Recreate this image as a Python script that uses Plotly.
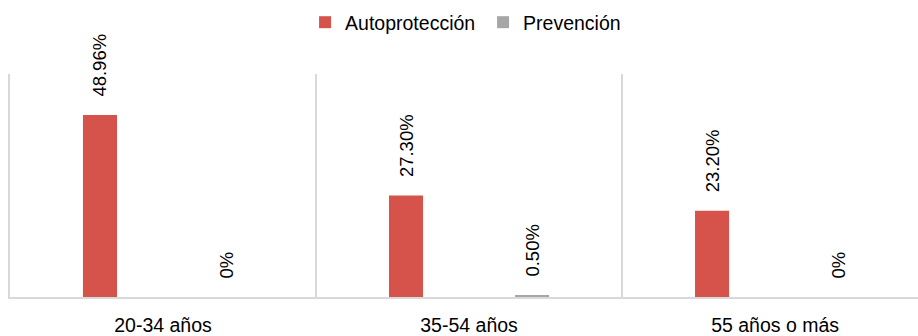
import plotly.graph_objects as go

categories = ["20-34 años", "35-54 años", "55 años o más"]
autoproteccion = [48.96, 27.30, 23.20]
prevencion = [0.0, 0.50, 0.0]
auto_labels = ["48.96%", "27.30%", "23.20%"]
prev_labels = ["0%", "0.50%", "0%"]

FONT = "Liberation Sans, Arial, sans-serif"
RED = "#D6534B"
GRAY = "#A6A6A6"
GRID = "#D9D9D9"
PAD = "\u00a0\u00a0\u00a0"

fig = go.Figure()
fig.add_trace(go.Bar(
    name="Autoprotección", x=categories, y=autoproteccion,
    marker=dict(color=RED, line=dict(width=0)),
    text=[PAD + t for t in auto_labels], textposition="outside", textangle=-90,
    constraintext="none", cliponaxis=False,
    textfont=dict(family=FONT, size=18.5, color="#000000"),
))
fig.add_trace(go.Bar(
    name="Prevención", x=categories, y=prevencion,
    marker=dict(color=GRAY, line=dict(width=0)),
    text=[PAD + t for t in prev_labels], textposition="outside", textangle=-90,
    constraintext="none", cliponaxis=False,
    textfont=dict(family=FONT, size=18.5, color="#000000"),
))

fig.update_layout(
    width=918, height=336,
    margin=dict(l=10, r=0, t=74, b=39),
    paper_bgcolor="white", plot_bgcolor="white",
    barmode="group", bargap=0.176, bargroupgap=0.73,
    font=dict(family=FONT, size=19.5, color="#000000"),
    showlegend=True,
    legend=dict(orientation="h", x=0.521, xanchor="center", y=0.991, yref="container",
                yanchor="top", font=dict(family=FONT, size=19.5, color="#000000"),
                itemwidth=30, entrywidth=133, entrywidthmode="pixels",
                bgcolor="rgba(0,0,0,0)"),
    xaxis=dict(type="category", range=[-0.5, 2.467], tickson="boundaries",
               showgrid=True, gridcolor=GRID, gridwidth=2,
               showline=True, linecolor=GRID, linewidth=2,
               ticks="", ticklabelstandoff=10,
               tickfont=dict(family=FONT, size=19.5, color="#000000")),
    yaxis=dict(range=[0, 60], showgrid=False, zeroline=False, showticklabels=False,
               showline=True, linecolor=GRID, linewidth=2, ticks=""),
)

fig.write_html("out.html")
